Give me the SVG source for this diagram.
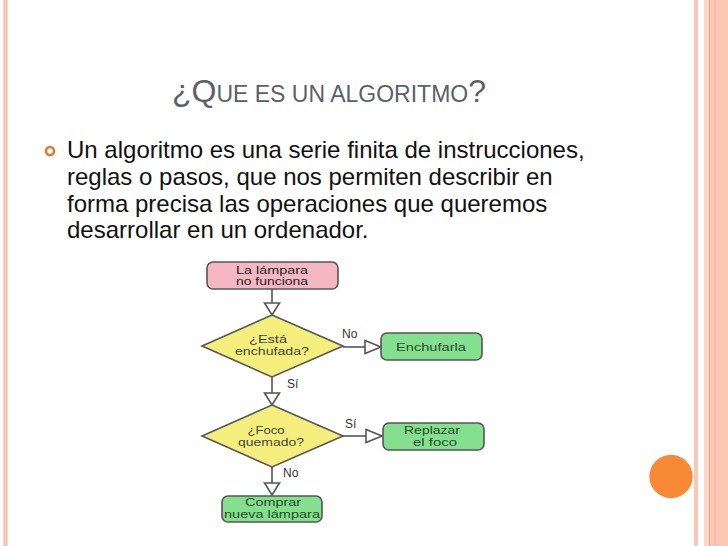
<svg xmlns="http://www.w3.org/2000/svg" width="728" height="546" viewBox="0 0 728 546">
<defs>
<style>
.title{font-family:"Liberation Sans",Arial,sans-serif;fill:#5a5f6a}
.body{font-family:"Liberation Sans",Arial,sans-serif;font-size:24px;fill:#111}
.fc{font-family:"Liberation Sans",Arial,sans-serif;font-size:10.5px;text-anchor:middle}
.lbl{font-family:"Liberation Sans",Arial,sans-serif;font-size:12px;fill:#333}
.box{stroke:#555;stroke-width:1.6}
.ln{stroke:#555;stroke-width:1.6;fill:none}
.ah{fill:#fff;stroke:#555;stroke-width:1.6;stroke-linejoin:miter}
</style>
</defs>
<rect width="728" height="546" fill="#fff"/>
<!-- borders -->
<g id="borders">
<rect x="3.5" y="0" width="4" height="546" fill="#fbd3c3"/>
<line x1="4.2" y1="0" x2="4.2" y2="546" stroke="#f5b49c" stroke-width="1"/>
<line x1="6.8" y1="0" x2="6.8" y2="546" stroke="#f5b49c" stroke-width="1"/>
<rect x="694" y="0" width="4" height="546" fill="#f9c7b5"/>
<rect x="704" y="0" width="5" height="546" fill="#fcd6c8"/>
<rect x="709" y="0" width="1.5" height="546" fill="#e9a07f"/>
<rect x="710.5" y="0" width="17.5" height="546" fill="#fcc8b3"/>
<line x1="715" y1="0" x2="715" y2="546" stroke="#f3b096" stroke-width="1"/>
</g>
<circle cx="671" cy="476.5" r="21.7" fill="#f98a35"/>
<!-- title -->
<text class="title" x="172" y="102"><tspan font-size="32">¿Q</tspan><tspan font-size="23">UE ES UN ALGORITMO</tspan><tspan font-size="32">?</tspan></text>
<!-- body -->
<circle cx="50" cy="151" r="4" fill="none" stroke="#e07a30" stroke-width="2.6"/>
<text class="body" x="67" y="158">Un algoritmo es una serie finita de instrucciones,</text>
<text class="body" x="67" y="185">reglas o pasos, que nos permiten describir en</text>
<text class="body" x="67" y="212">forma precisa las operaciones que queremos</text>
<text class="body" x="67" y="238">desarrollar en un ordenador.</text>
<!-- connectors -->
<g id="connectors">
<line class="ln" x1="272" y1="289" x2="272" y2="303"/>
<polygon class="ah" points="264.5,303 279.5,303 272,315"/>
<line class="ln" x1="343" y1="347" x2="365" y2="347"/>
<polygon class="ah" points="365,340.5 365,353.5 381,347"/>
<text class="lbl" x="342" y="338">No</text>
<line class="ln" x1="272" y1="377" x2="272" y2="393"/>
<polygon class="ah" points="264.5,393 279.5,393 272,405"/>
<text class="lbl" x="287" y="388">Sí</text>
<line class="ln" x1="343" y1="436" x2="366" y2="436"/>
<polygon class="ah" points="366,429.5 366,442.5 382,436"/>
<text class="lbl" x="345" y="428">Sí</text>
<line class="ln" x1="272" y1="467" x2="272" y2="483"/>
<polygon class="ah" points="264.5,483 279.5,483 272,495"/>
<text class="lbl" x="283" y="477">No</text>
</g>
<!-- nodes -->
<g id="start">
<rect class="box" x="207" y="262" width="131" height="27" rx="6" fill="#f5b8c3"/>
<text class="fc" x="272" y="273.5" fill="#222" textLength="72" lengthAdjust="spacingAndGlyphs">La lámpara</text>
<text class="fc" x="272" y="285" fill="#222" textLength="72" lengthAdjust="spacingAndGlyphs">no funciona</text>
</g>
<g id="decision1">
<polygon class="box" points="272,315 343,346 272,377 202,346" fill="#f4ef7c"/>
<text class="fc" x="268" y="343" fill="#444" textLength="38" lengthAdjust="spacingAndGlyphs">¿Está</text>
<text class="fc" x="272" y="355" fill="#444" textLength="74" lengthAdjust="spacingAndGlyphs">enchufada?</text>
</g>
<g id="enchufarla">
<rect class="box" x="381" y="333" width="101" height="27" rx="6" fill="#84e08e"/>
<text class="fc" x="431" y="350.5" fill="#2a4a2a" textLength="70" lengthAdjust="spacingAndGlyphs">Enchufarla</text>
</g>
<g id="decision2">
<polygon class="box" points="272,405 343,436 272,467 202,436" fill="#f4ef7c"/>
<text class="fc" x="266" y="434" fill="#444" textLength="37" lengthAdjust="spacingAndGlyphs">¿Foco</text>
<text class="fc" x="271" y="446" fill="#444" textLength="66" lengthAdjust="spacingAndGlyphs">quemado?</text>
</g>
<g id="replazar">
<rect class="box" x="383" y="423" width="101" height="27" rx="6" fill="#84e08e"/>
<text class="fc" x="432" y="434" fill="#2a4a2a" textLength="56" lengthAdjust="spacingAndGlyphs">Replazar</text>
<text class="fc" x="435" y="446" fill="#2a4a2a" textLength="44" lengthAdjust="spacingAndGlyphs">el foco</text>
</g>
<g id="comprar">
<rect class="box" x="222" y="496" width="100" height="26" rx="6" fill="#84e08e"/>
<text class="fc" x="273" y="505.5" fill="#1f4a1f" textLength="56" lengthAdjust="spacingAndGlyphs">Comprar</text>
<text class="fc" x="272" y="517.5" fill="#1f4a1f" textLength="96" lengthAdjust="spacingAndGlyphs">nueva lámpara</text>
</g>
</svg>
